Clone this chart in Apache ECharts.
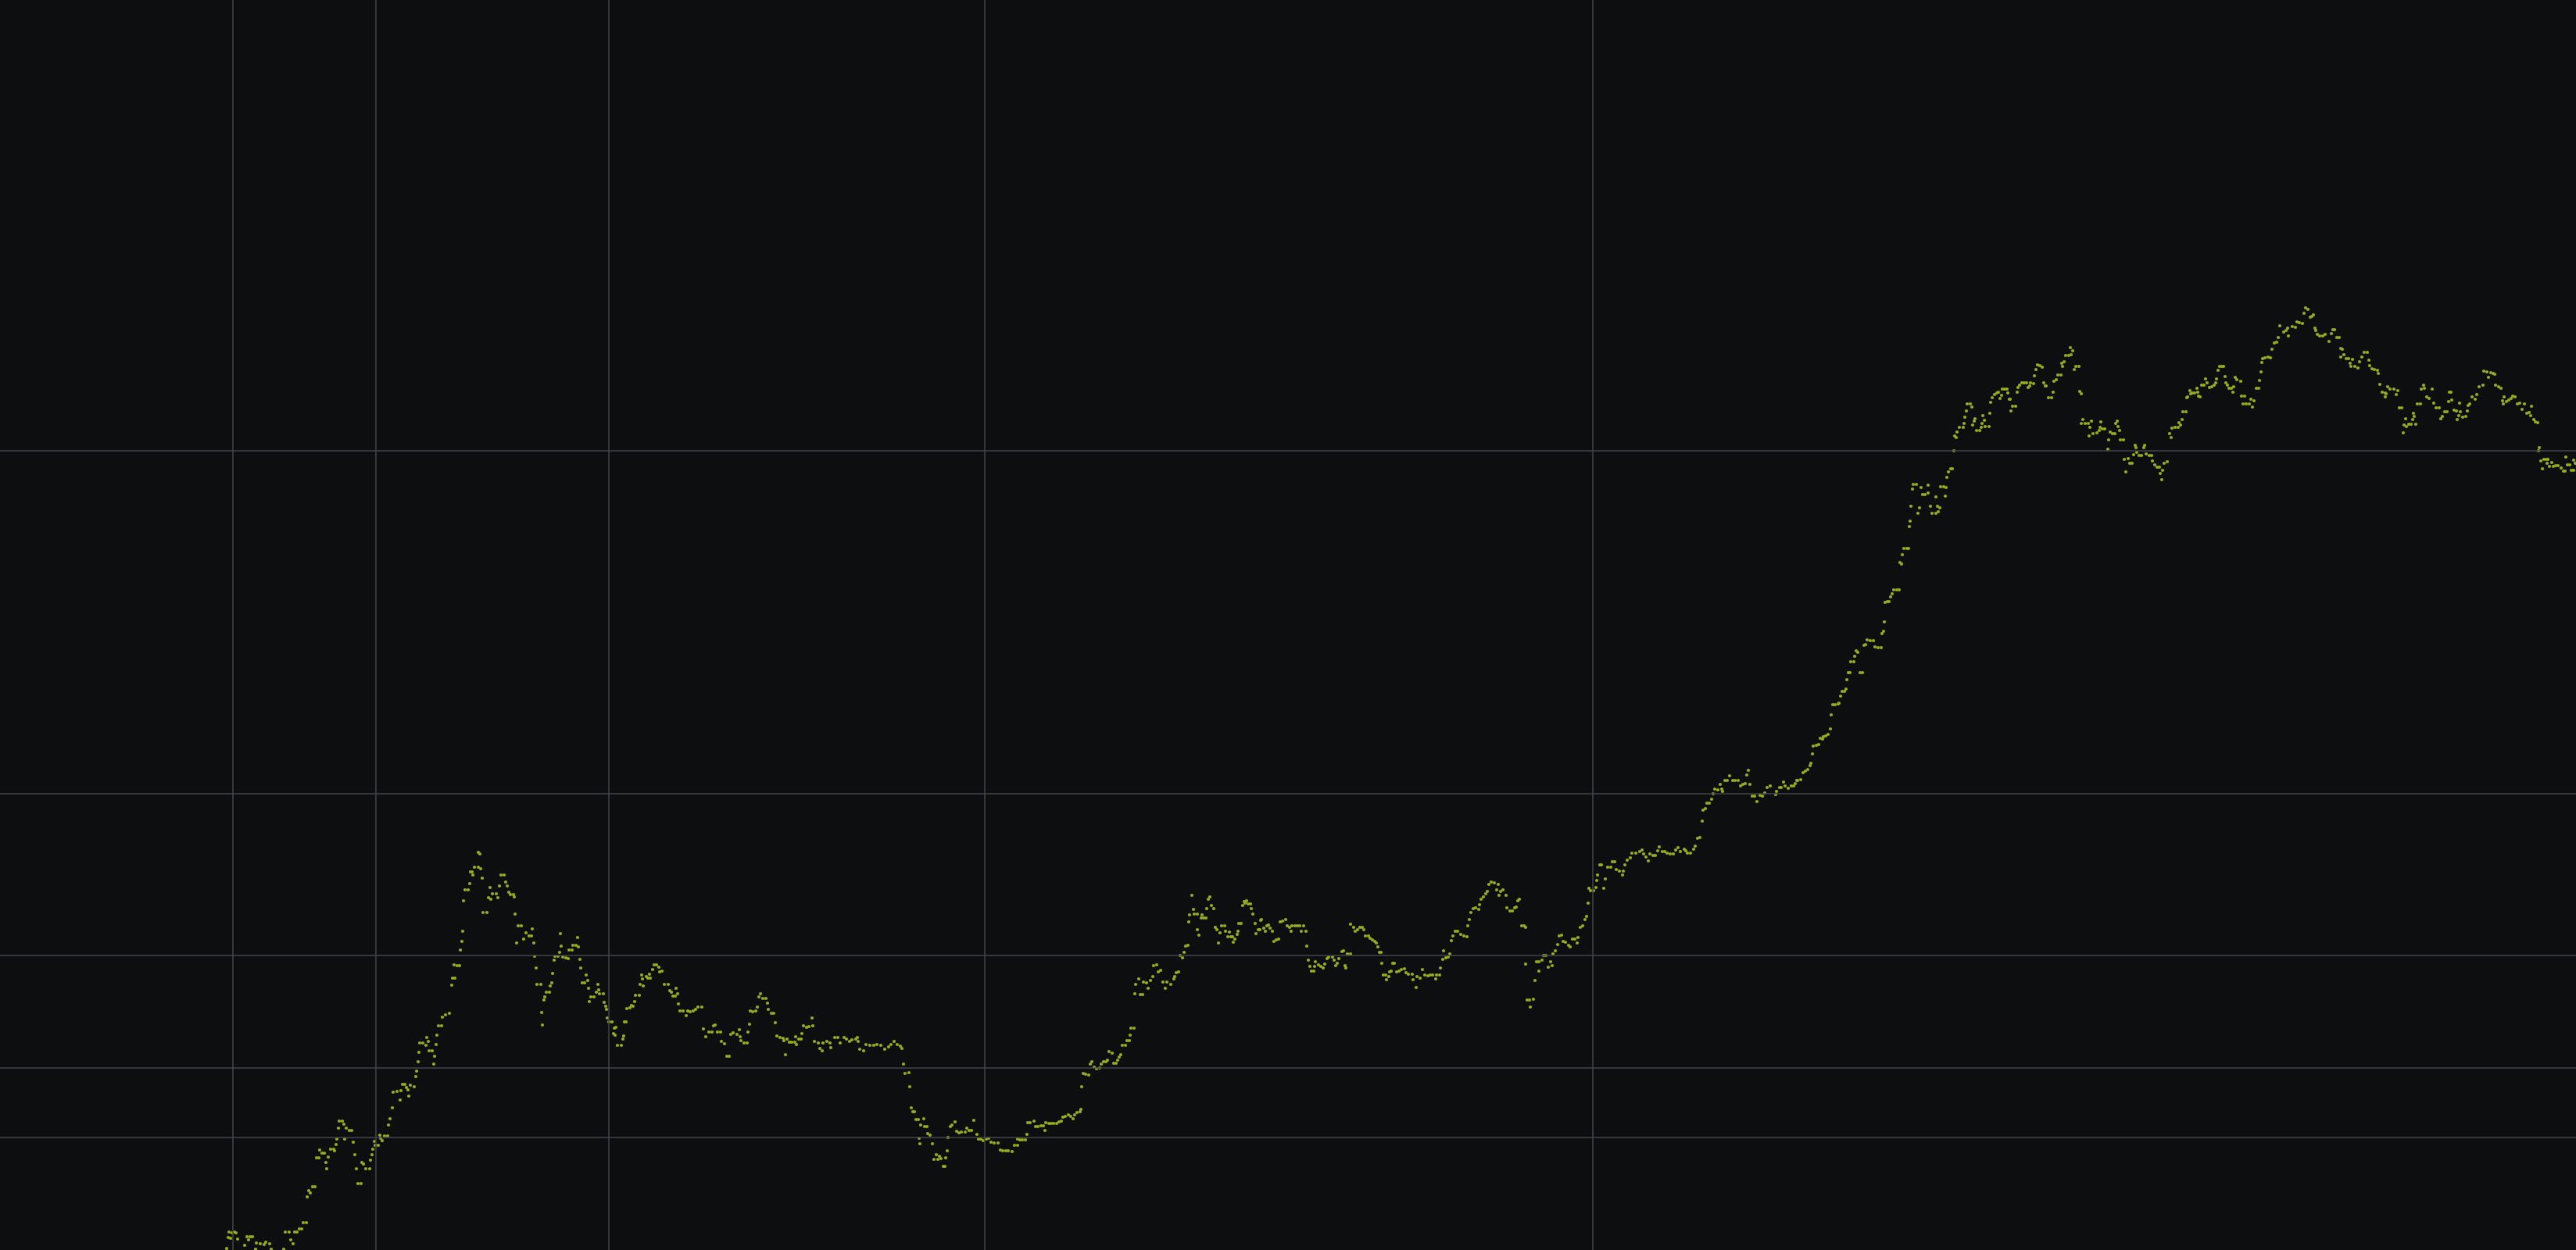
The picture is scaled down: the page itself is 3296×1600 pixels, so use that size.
<!DOCTYPE html>
<html>
<head>
<meta charset="utf-8">
<script src="https://cdn.jsdelivr.net/npm/echarts@6/dist/echarts.min.js"></script>
<style>
html,body{margin:0;padding:0;background:#0d0e10;}
#chart{width:3296px;height:1600px;}
</style>
</head>
<body>
<div id="chart"></div>
<script>
// Time index (t) and level (v), in segments
const segmentA = [[290,2],[292,16],[293,23],[295,15],[297,22],[300,23],[302,22],[304,14],[313,6],[316,17],[318,13],[320,17],[323,17],[327,1],[328,9],[333,8],[338,7],[340,10],[345,8],[347,1],[363,1],[365,23],[370,23],[372,13],[375,8],[377,23],[380,23],[383,27],[386,27],[388,35],[392,35],[393,68],[395,76],[397,73],[400,81],[403,81],[405,118],[408,118],[409,128],[412,124],[415,124],[417,112],[418,104],[420,119],[423,129],[427,129],[428,127],[430,135],[431,142],[433,156],[434,165],[438,165],[440,161],[441,142],[443,156],[447,153],[450,153],[452,138],[454,122],[456,104],[458,85],[462,85],[463,112],[465,110],[468,104],[473,104],[474,115],[476,122],[477,129],[479,139],[480,134],[484,134],[486,147],[487,143],[489,140],[492,146],[496,146],[497,160],[499,168],[502,182],[503,202],[508,203],[512,192],[513,204],[515,212],[518,212],[520,208],[522,205],[523,197],[525,211],[530,209],[532,222],[533,229],[535,241],[536,253],[537,265],[541,265],[545,262],[546,272],[548,267],[549,255],[553,255],[555,238],[556,248],[558,263],[559,275],[561,287],[565,287],[566,298],[570,301],[575,303],[578,339],[579,348],[582,348],[581,365],[585,364],[588,364],[589,384],[591,395],[592,408],[593,447],[595,461],[599,461],[601,469],[602,484],[604,484],[605,480],[607,490],[612,490],[612,509],[614,507],[615,488],[617,476],[618,432],[623,432],[625,451],[627,464],[628,449],[630,456],[635,456],[637,451],[639,466],[641,480],[645,480],[647,471],[649,466],[651,458],[653,455],[657,455],[658,452],[659,430],[661,393],[663,415],[667,415],[670,398],[673,406],[677,402],[680,402],[681,411],[683,393],[684,376],[686,361],[687,340],[692,340],[693,304],[694,288],[696,320],[697,324],[699,330],[703,330],[704,338],[706,342],[707,354],[709,371],[710,376],[714,376],[716,381],[717,405],[718,389],[720,375],[724,374],[727,373],[728,384],[732,384],[733,390],[737,390],[740,388],[739,400],[742,372],[743,361],[745,342],[748,342],[750,352],[752,345],[753,335],[754,318],[756,324],[760,324],[763,330],[765,340],[766,333],[767,328],[772,328],[773,317],[775,312],[776,308],[777,297],[779,292],[783,292],[785,277],[787,275],[786,284],[788,285],[790,262],[795,262],[797,270],[798,274],[799,292]];

const segmentB = [[801,292],[802,309],[806,310],[808,313],[810,312],[812,318],[813,326],[818,326],[819,340],[823,338],[821,352],[822,347],[827,350],[829,348],[831,353],[832,348],[835,359],[837,365],[840,365],[843,362],[844,356],[847,357],[850,340],[855,340],[857,332],[859,330],[861,325],[864,325],[865,335],[867,328],[868,315],[870,306],[874,306],[878,300],[880,306],[883,305],[887,306],[890,308],[893,311],[898,311],[900,283],[903,273],[907,279],[911,279],[913,287],[915,288],[918,279],[922,279],[923,267],[927,264],[930,248],[933,248],[935,276],[938,278],[943,276],[947,273],[946,282],[948,268],[952,265],[956,265],[957,279],[959,289],[960,306],[963,305],[967,306],[969,311],[971,324],[973,328],[976,322],[980,322],[982,316],[983,308],[987,303],[990,303],[992,291],[994,274],[998,272],[1002,271],[1003,268],[1005,250],[1007,270],[1010,266],[1013,266],[1017,266],[1019,263],[1018,273],[1022,270],[1025,270],[1026,277],[1028,287],[1032,285],[1035,286],[1040,287],[1039,297],[1042,267],[1047,265],[1049,258],[1052,255],[1053,265],[1058,267],[1062,265],[1063,259],[1068,272],[1072,272],[1075,265],[1080,272],[1083,270],[1087,267],[1090,269],[1095,270],[1097,272],[1098,267],[1100,257],[1105,255],[1108,263],[1113,262],[1118,262],[1122,263],[1127,262],[1132,257],[1137,260],[1140,263],[1144,267],[1148,263],[1152,261],[1154,258],[1156,238],[1158,226],[1163,227],[1164,209],[1166,182],[1168,177],[1170,177],[1172,167],[1175,167],[1176,143],[1177,136],[1178,160],[1182,168],[1183,158],[1186,158],[1187,149],[1190,147],[1193,136],[1195,116],[1200,116],[1198,122],[1202,120],[1204,117],[1207,107],[1209,107],[1210,118],[1212,127],[1213,144],[1216,158],[1218,160],[1222,164],[1224,152],[1227,150],[1230,151],[1235,151],[1237,156],[1240,153],[1243,153],[1246,166],[1250,148],[1252,142],[1255,142],[1258,140],[1262,142],[1265,143],[1268,138],[1272,137],[1277,137],[1280,128],[1283,127],[1287,127],[1290,127],[1295,126],[1298,134]];

const segmentC = [[1302,134],[1302,142],[1305,141],[1308,141],[1312,141],[1314,148],[1315,163],[1318,163],[1323,165],[1325,158],[1328,158],[1332,159],[1335,159],[1337,153],[1338,163],[1342,162],[1345,162],[1348,162],[1352,162],[1355,164],[1358,165],[1360,170],[1363,171],[1367,173],[1370,171],[1373,168],[1375,173],[1378,176],[1382,177],[1383,180],[1384,209],[1386,226],[1389,225],[1393,224],[1395,238],[1397,241],[1400,234],[1403,232],[1407,233],[1409,238],[1412,241],[1415,241],[1417,243],[1419,254],[1423,252],[1425,239],[1428,239],[1430,243],[1432,247],[1434,250],[1436,262],[1440,262],[1442,268],[1445,268],[1446,275],[1447,284],[1451,284],[1452,328],[1453,340],[1457,347],[1459,327],[1462,327],[1463,343],[1467,342],[1469,335],[1472,345],[1475,350],[1476,364],[1480,365],[1482,356],[1485,358],[1488,343],[1491,335],[1493,343],[1498,340],[1502,347],[1503,350],[1505,355],[1508,356],[1510,377],[1513,374],[1515,381],[1517,389],[1520,390],[1521,420],[1522,429],[1525,454],[1527,436],[1528,430],[1532,430],[1532,410],[1534,403],[1537,425],[1540,425],[1543,425],[1538,429],[1544,437],[1546,449],[1548,452],[1550,441],[1553,437],[1555,413],[1557,410],[1559,393],[1561,406],[1563,415],[1567,415],[1568,408],[1571,401],[1573,407],[1575,401],[1577,401],[1578,394],[1580,398],[1583,404],[1584,408],[1585,418],[1588,418],[1590,441],[1592,446],[1593,444],[1595,447],[1597,443],[1600,443],[1601,437],[1603,430],[1606,418],[1607,405],[1610,410],[1612,410],[1613,422],[1614,423],[1617,412],[1619,408],[1621,415],[1623,416],[1625,412],[1628,408],[1630,395],[1633,397],[1636,398],[1638,420],[1641,421],[1645,423],[1647,415],[1650,413],[1652,408],[1653,415],[1657,415],[1660,415],[1663,415],[1668,415],[1665,408],[1671,408],[1672,389],[1674,371],[1676,363],[1678,357],[1681,357],[1682,363],[1683,369],[1687,365],[1690,363],[1693,361],[1695,366],[1698,373],[1700,375],[1705,375],[1707,371],[1709,364],[1711,367],[1713,373],[1717,382],[1719,383],[1721,364],[1722,361],[1724,379],[1728,379],[1728,417],[1732,413],[1734,408],[1737,410],[1740,413],[1743,413],[1745,410],[1747,402],[1751,402],[1753,399],[1756,397],[1759,395],[1761,393],[1763,388],[1765,381],[1767,381],[1768,367],[1770,352],[1773,352],[1774,346],[1777,350],[1778,356],[1780,357],[1782,367],[1784,367],[1787,356],[1790,357],[1793,359],[1797,360],[1799,355]];

const segmentD = [[1802,353],[1807,353],[1808,346],[1812,336],[1813,350],[1817,348],[1820,359],[1823,352],[1827,351],[1830,352],[1833,352],[1838,352],[1842,352],[1837,347],[1843,361],[1846,372],[1850,374],[1853,375],[1847,383],[1855,379],[1857,396],[1859,402],[1862,408],[1865,408],[1869,404],[1873,402],[1877,401],[1878,415],[1880,423],[1882,432],[1885,437],[1888,438],[1892,436],[1893,442],[1895,449],[1898,452],[1901,456],[1903,459],[1905,468],[1908,471],[1912,470],[1915,461],[1917,468],[1918,454],[1920,459],[1923,461],[1927,454],[1928,438],[1932,434],[1935,434],[1938,438],[1940,439],[1942,447],[1944,449],[1947,415],[1950,415],[1952,413],[1952,366],[1954,320],[1957,320],[1958,311],[1962,321],[1964,345],[1966,369],[1969,369],[1969,357],[1973,371],[1975,377],[1978,377],[1981,362],[1984,369],[1986,364],[1987,379],[1990,383],[1993,391],[1995,402],[1998,403],[2000,395],[2003,394],[2007,390],[2009,388],[2012,398],[2015,398],[2019,400],[2018,393],[2022,413],[2025,415],[2028,423],[2030,427],[2032,444],[2033,463],[2035,460],[2039,460],[2042,464],[2043,473],[2044,480],[2047,493],[2049,493],[2052,463],[2054,475],[2057,490],[2061,490],[2063,497],[2066,497],[2068,487],[2072,485],[2076,480],[2077,485],[2079,493],[2082,499],[2086,502],[2088,508],[2093,508],[2098,510],[2101,512],[2103,507],[2106,503],[2109,498],[2111,507],[2115,505],[2118,505],[2121,511],[2123,516],[2127,510],[2130,510],[2133,508],[2137,507],[2141,507],[2144,512],[2147,515],[2150,510],[2155,513],[2157,511],[2159,508],[2163,508],[2167,513],[2169,517],[2172,527],[2175,528],[2178,549],[2179,563],[2182,565],[2184,572],[2187,572],[2190,577],[2192,584],[2194,590],[2198,589],[2201,596],[2203,590],[2204,587],[2207,601],[2210,601],[2213,607],[2217,601],[2220,601],[2224,601],[2227,594],[2230,596],[2233,597],[2235,608],[2237,614],[2239,596],[2242,581],[2245,581],[2248,574],[2252,582],[2255,581],[2258,585],[2261,592],[2265,594],[2272,583],[2273,587],[2277,592],[2279,592],[2282,599],[2284,594],[2288,591],[2292,594],[2295,594],[2297,597],[2299,601]];

const segmentE = [[2300,601],[2304,602],[2307,611],[2310,613],[2313,615],[2316,620],[2317,623],[2319,635],[2320,645],[2324,646],[2327,647],[2329,655],[2332,654],[2333,657],[2336,658],[2339,660],[2342,667],[2343,685],[2345,698],[2348,698],[2352,699],[2353,700],[2355,709],[2357,715],[2360,715],[2362,718],[2363,730],[2365,739],[2367,739],[2368,753],[2372,753],[2373,760],[2375,767],[2377,765],[2380,739],[2383,739],[2385,774],[2387,775],[2389,781],[2393,780],[2397,780],[2399,772],[2403,771],[2407,771],[2408,789],[2410,792],[2411,804],[2412,829],[2415,830],[2417,830],[2419,836],[2421,840],[2423,845],[2427,845],[2430,845],[2431,880],[2433,878],[2434,890],[2436,898],[2440,898],[2442,898],[2443,926],[2444,933],[2445,952],[2447,974],[2448,980],[2452,980],[2454,943],[2456,950],[2458,976],[2460,967],[2463,967],[2467,969],[2467,979],[2470,952],[2472,943],[2477,943],[2477,964],[2479,952],[2482,950],[2480,945],[2483,977],[2487,977],[2490,976],[2489,965],[2491,989],[2493,996],[2496,1000],[2498,1000],[2500,1023],[2501,1042],[2503,1040],[2504,1047],[2507,1053],[2512,1053],[2513,1058],[2514,1066],[2516,1074],[2517,1083],[2521,1083],[2523,1079],[2524,1056],[2526,1061],[2527,1064],[2529,1049],[2533,1049],[2535,1053],[2536,1058],[2537,1068],[2539,1062],[2540,1054],[2545,1054],[2546,1071],[2547,1085],[2549,1091],[2552,1095],[2555,1097],[2557,1098],[2559,1090],[2561,1094],[2562,1102],[2565,1102],[2568,1102],[2569,1097],[2571,1089],[2572,1089],[2573,1074],[2575,1080],[2579,1080],[2581,1098],[2582,1104],[2584,1107],[2587,1110],[2590,1110],[2593,1110],[2595,1104],[2597,1106],[2598,1110],[2602,1109],[2603,1119],[2605,1127],[2607,1133],[2610,1132],[2613,1130],[2615,1110],[2617,1106],[2618,1106],[2621,1091],[2625,1091],[2627,1098],[2628,1112],[2631,1114],[2633,1120],[2637,1120],[2638,1135],[2639,1131],[2641,1137],[2643,1145],[2647,1145],[2650,1146],[2649,1155],[2652,1151],[2654,1127],[2656,1131],[2660,1131],[2661,1099],[2663,1096],[2663,1058],[2665,1063],[2668,1058],[2672,1058],[2673,1042],[2674,1053],[2676,1061],[2678,1045],[2683,1046],[2686,1049],[2687,1053],[2688,1060],[2690,1051],[2693,1051],[2697,1025],[2698,1037],[2700,1047],[2703,1045],[2706,1045],[2707,1058],[2709,1061],[2710,1054],[2712,1049],[2713,1037],[2717,1037],[2718,1012],[2720,996],[2723,1013],[2725,1007],[2728,1007],[2730,1018],[2732,1030],[2733,1027],[2734,1021],[2737,1017],[2740,1017],[2743,1027],[2744,1030],[2746,1019],[2750,1017],[2753,1017],[2754,1010],[2757,1005],[2760,1002],[2763,1002],[2764,994],[2766,986],[2767,998],[2769,1007],[2773,1009],[2776,1045],[2778,1040],[2779,1052],[2783,1053],[2787,1053],[2788,1059],[2790,1056],[2792,1063],[2793,1073],[2797,1073],[2798,1091]];

const segmentF = [[2799,1092],[2802,1100],[2803,1096],[2805,1097],[2808,1097],[2811,1103],[2812,1098],[2813,1093],[2815,1092],[2817,1107],[2820,1107],[2822,1115],[2824,1110],[2827,1104],[2830,1105],[2833,1107],[2835,1110],[2836,1115],[2838,1126],[2840,1131],[2843,1131],[2845,1131],[2847,1118],[2848,1110],[2850,1107],[2852,1103],[2855,1103],[2858,1105],[2857,1098],[2860,1117],[2862,1114],[2867,1112],[2868,1093],[2872,1093],[2870,1083],[2874,1083],[2878,1083],[2880,1089],[2882,1079],[2884,1087],[2887,1103],[2890,1103],[2891,1113],[2893,1124],[2894,1136],[2895,1141],[2898,1142],[2902,1143],[2905,1142],[2907,1153],[2910,1161],[2913,1162],[2915,1168],[2917,1183],[2922,1175],[2925,1177],[2927,1180],[2928,1170],[2933,1182],[2937,1181],[2939,1188],[2942,1187],[2946,1186],[2948,1199],[2950,1206],[2953,1204],[2956,1194],[2958,1195],[2960,1197],[2962,1180],[2963,1177],[2965,1172],[2968,1170],[2972,1170],[2975,1172],[2980,1163],[2983,1173],[2985,1178],[2987,1178],[2990,1168],[2993,1168],[2995,1154],[2997,1153],[2995,1143],[2999,1146],[3002,1141],[3005,1141],[3007,1135],[3008,1131],[3010,1140],[3013,1131],[3017,1129],[3019,1137],[3022,1143],[3025,1149],[3029,1149],[3031,1139],[3032,1132],[3035,1128],[3038,1127],[3042,1126],[3043,1122],[3045,1108],[3048,1098],[3052,1097],[3053,1096],[3052,1092],[3055,1105],[3058,1102],[3063,1102],[3066,1095],[3068,1100],[3070,1078],[3073,1078],[3075,1046],[3076,1056],[3078,1064],[3079,1054],[3082,1057],[3085,1057],[3087,1063],[3088,1071],[3089,1067],[3091,1057],[3093,1083],[3097,1083],[3098,1102],[3101,1107],[3102,1103],[3105,1092],[3108,1090],[3112,1102],[3114,1084],[3117,1078],[3121,1078],[3123,1064],[3125,1067],[3128,1073],[3131,1073],[3133,1086],[3134,1098],[3136,1098],[3137,1088],[3140,1075],[3143,1074],[3144,1063],[3146,1068],[3147,1084],[3148,1073],[3151,1066],[3155,1067],[3157,1074],[3158,1081],[3160,1083],[3163,1092],[3167,1089],[3169,1095],[3172,1105],[3177,1107],[3178,1125],[3182,1124],[3184,1117],[3187,1123],[3190,1122],[3192,1121],[3193,1107],[3197,1105],[3200,1103],[3202,1087],[3203,1083],[3204,1092],[3207,1086],[3210,1088],[3213,1090],[3215,1093],[3218,1092],[3221,1083],[3224,1084],[3227,1076],[3230,1083],[3233,1071],[3236,1072],[3238,1068],[3239,1080],[3242,1063],[3244,1060],[3247,1059],[3248,1023],[3249,1027],[3251,1010],[3253,1000],[3255,1012],[3258,1012],[3260,1012],[3259,1007],[3262,1003],[3265,1008],[3267,1003],[3270,1004],[3273,1004],[3277,1001],[3280,997],[3282,997],[3283,1015],[3285,1005],[3288,1005],[3290,998],[3293,998],[3293,1011],[3295,1007]];

// Grid line positions (axis values)
const xGridValues = [298, 481, 779, 1260, 2038];
const yGridValues = [1023, 584, 377, 233, 144];

const allPoints = [].concat(segmentA, segmentB, segmentC, segmentD, segmentE, segmentF);

const chart = echarts.init(document.getElementById('chart'), null, {renderer: 'canvas'});
const hiddenAxis = {
  axisLine: {show: false}, axisTick: {show: false},
  axisLabel: {show: false}, splitLine: {show: false}
};
chart.setOption({
  backgroundColor: '#0d0e10',
  animation: false,
  grid: {left: 0, right: 0, top: 0, bottom: 0, containLabel: false},
  xAxis: Object.assign({type: 'value', min: 0, max: 3296}, hiddenAxis),
  yAxis: Object.assign({type: 'value', min: 0, max: 1600}, hiddenAxis),
  series: [
    {
      type: 'line',
      data: [],
      silent: true,
      z: 1,
      markLine: {
        silent: true,
        symbol: ['none', 'none'],
        label: {show: false},
        emphasis: {disabled: true},
        lineStyle: {color: '#44464c', width: 1.5, type: 'solid'},
        data: xGridValues.map(v => ({xAxis: v})).concat(yGridValues.map(v => ({yAxis: v})))
      }
    },
    {
      type: 'scatter',
      z: 3,
      symbol: 'circle',
      symbolSize: 4.2,
      itemStyle: {color: '#94ae1c', opacity: 1},
      data: allPoints
    }
  ]
});
</script>
</body>
</html>
